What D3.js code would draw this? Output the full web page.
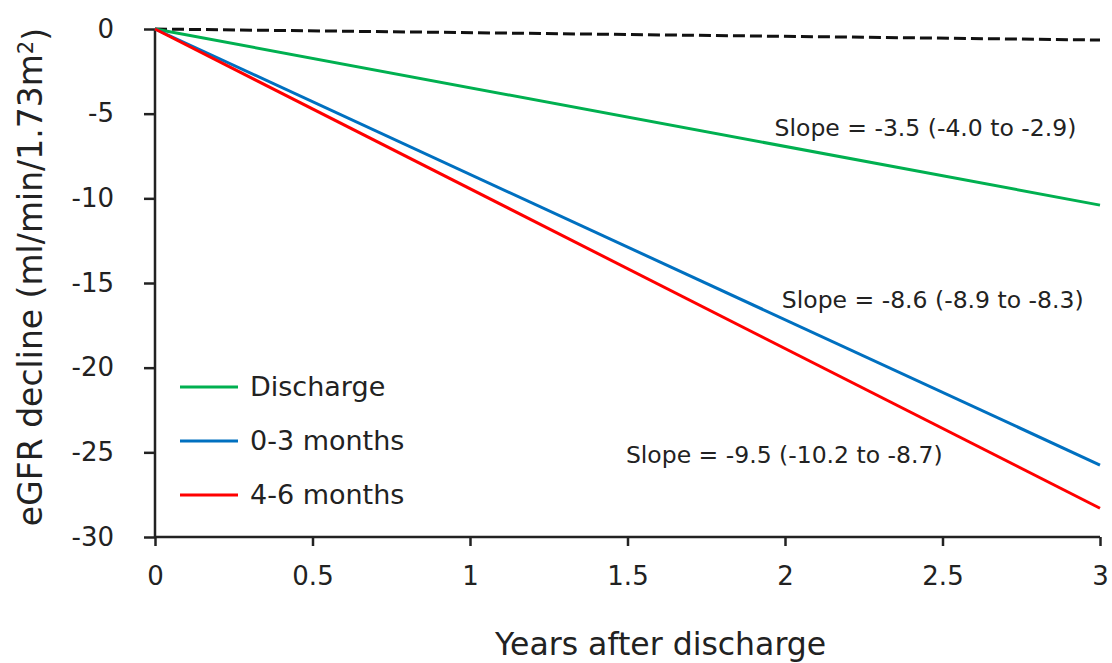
<!DOCTYPE html>
<html>
<head>
<meta charset="utf-8">
<script src="https://cdn.jsdelivr.net/npm/d3@7"></script>
<style>
  body { margin: 0; background: #fff; }
  text { font-family: "DejaVu Sans", sans-serif; fill: #222; }
</style>
</head>
<body>
<script>
// years after discharge (fitted lines, start and end)
var years = [0, 3];

var discharge = [0, -10.4];
var months0to3 = [0, -25.75];
var months4to6 = [0, -28.3];
var reference = [0, -0.65];

var seriesNames = ["Discharge", "0-3 months", "4-6 months"];
var seriesColors = ["#00b050", "#0070c0", "#ff0000"];

var slopeLabels = [
  "Slope = -3.5 (-4.0 to -2.9)",
  "Slope = -8.6 (-8.9 to -8.3)",
  "Slope = -9.5 (-10.2 to -8.7)"
];
// where each label sits (year, value)
var slopeAt = [[1.967, -5.85], [1.99, -16.0], [1.495, -25.15]];

var xTicks = [0, 0.5, 1, 1.5, 2, 2.5, 3];
var yTicks = [0, -5, -10, -15, -20, -25, -30];

var W = 1112, H = 663;
var margin = {top: 29, right: 12, bottom: 126, left: 155};
var width = W - margin.left - margin.right,
    height = H - margin.top - margin.bottom;

var x = d3.scaleLinear().domain([0, 3]).range([0, width]);
var y = d3.scaleLinear().domain([-30, 0]).range([height, 0]);

var svg = d3.select("body").append("svg")
    .attr("width", W)
    .attr("height", H)
  .append("g")
    .attr("transform", "translate(" + margin.left + "," + margin.top + ")");

var xAxis = d3.axisBottom(x).tickValues(xTicks).tickSize(9).tickPadding(21)
    .tickFormat(function(d) { return String(d); });
var yAxis = d3.axisLeft(y).tickValues(yTicks).tickSize(11).tickPadding(30)
    .tickFormat(function(d) { return String(d); });

var gx = svg.append("g")
    .attr("transform", "translate(0," + height + ")")
    .call(xAxis);
var gy = svg.append("g").call(yAxis);

[gx, gy].forEach(function(g) {
  g.select(".domain").attr("stroke", "#222").attr("stroke-width", 2.5);
  g.selectAll(".tick line").attr("stroke", "#222").attr("stroke-width", 2.5);
  g.selectAll(".tick text").style("font-size", "26px").style("fill", "#222")
    .style("font-family", "'DejaVu Sans', sans-serif");
});
// axis path without outer ticks
gx.select(".domain").attr("d", "M0,0H" + width);
gy.select(".domain").attr("d", "M0,0V" + height);

var line = d3.line()
    .x(function(d, i) { return x(years[i]); })
    .y(function(d) { return y(d); });

svg.append("path")
    .datum(reference)
    .attr("fill", "none")
    .attr("stroke", "#111")
    .attr("stroke-width", 3)
    .attr("stroke-dasharray", "12,5")
    .attr("d", line);

var allSeries = [discharge, months0to3, months4to6];
allSeries.forEach(function(s, i) {
  svg.append("path")
      .datum(s)
      .attr("fill", "none")
      .attr("stroke", seriesColors[i])
      .attr("stroke-width", 3)
      .attr("d", line);
});

svg.selectAll(".slope")
    .data(slopeLabels)
  .enter().append("text")
    .attr("class", "slope")
    .attr("x", function(d, i) { return x(slopeAt[i][0]); })
    .attr("y", function(d, i) { return y(slopeAt[i][1]); })
    .attr("dy", "0.35em")
    .style("font-size", "23.5px")
    .text(function(d) { return d; });

//Legend
var legend = svg.selectAll(".legend")
    .data(seriesNames)
  .enter().append("g")
    .attr("class", "legend")
    .attr("transform", function(d, i) { return "translate(25," + (358 + i * 54) + ")"; });

legend.append("line")
    .attr("x1", 0).attr("x2", 58)
    .attr("stroke", function(d, i) { return seriesColors[i]; })
    .attr("stroke-width", 3);

legend.append("text")
    .attr("x", 70)
    .attr("dy", "0.35em")
    .style("font-size", "27px")
    .text(function(d) { return d; });

svg.append("text")
    .attr("x", x(1.605))
    .attr("y", height + 118)
    .attr("text-anchor", "middle")
    .style("font-size", "31.5px")
    .text("Years after discharge");

var ylab = svg.append("text")
    .attr("transform", "translate(-113," + (height / 2 - 6) + ") rotate(-90)")
    .attr("text-anchor", "middle")
    .style("font-size", "33px");
ylab.append("tspan").text("eGFR decline (ml/min/1.73m");
ylab.append("tspan").attr("dy", "-0.45em").style("font-size", "21px").text("2");
ylab.append("tspan").attr("dy", "0.45em").text(")");
</script>
</body>
</html>
